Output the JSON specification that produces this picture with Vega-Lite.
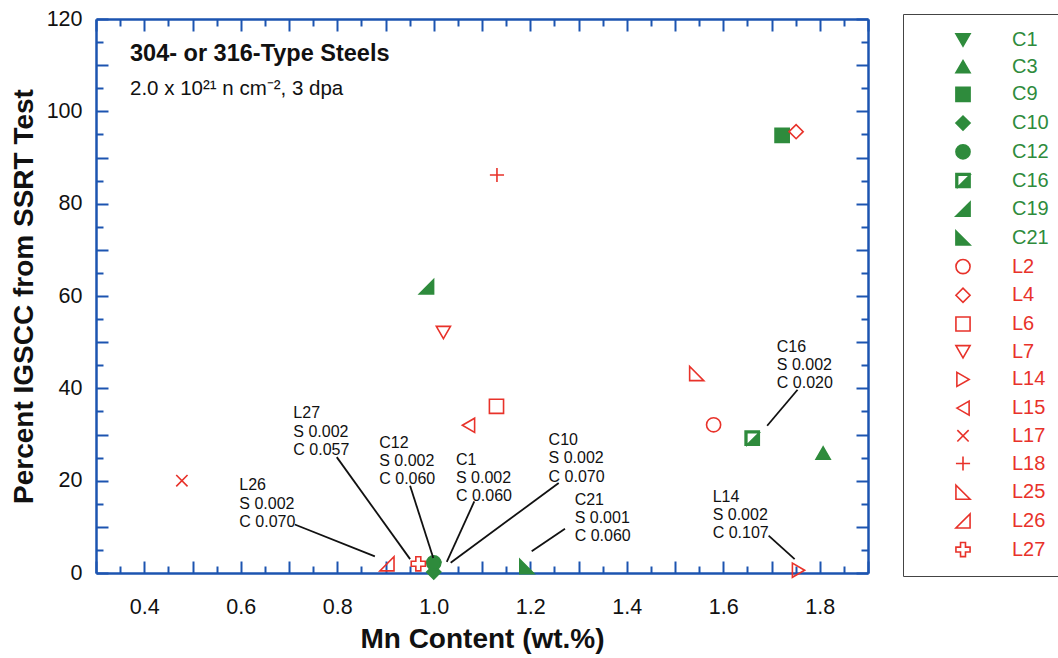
{
  "$schema": "https://vega.github.io/schema/vega-lite/v6.json",
  "autosize": {"type": "none"},
  "padding": {"left": 96, "top": 19, "right": 190, "bottom": 85},
  "width": 772,
  "height": 554,
  "background": "white",
  "config": {
    "view": {"stroke": null},
    "font": "Liberation Sans",
    "axis": {"grid": false, "domainColor": "#1c54b0", "tickColor": "#1c54b0", "tickWidth": 2, "domainWidth": 2.5, "labelFont": "Liberation Sans", "titleFont": "Liberation Sans", "labelColor": "#111", "titleColor": "#111"},
    "legend": {"labelColor": {"expr": "indexof(datum.value, 'C') == 0 ? '#2e8b3c' : '#e8322a'"}}
  },
  "resolve": {"axis": {"x": "independent", "y": "independent"}},
  "layer": [
    {
      "data": {"values": [
        {"id": "C1", "mn": 1.0, "pct": 1.0},
        {"id": "C3", "mn": 1.807, "pct": 26.0},
        {"id": "C9", "mn": 1.722, "pct": 94.8},
        {"id": "C10", "mn": 1.0, "pct": 0.2},
        {"id": "C12", "mn": 1.0, "pct": 2.2},
        {"id": "C16", "mn": 1.66, "pct": 29.2},
        {"id": "C19", "mn": 0.985, "pct": 62.0},
        {"id": "C21", "mn": 1.193, "pct": 1.4},
        {"id": "L2", "mn": 1.58, "pct": 32.1},
        {"id": "L4", "mn": 1.751, "pct": 95.6},
        {"id": "L6", "mn": 1.13, "pct": 36.1},
        {"id": "L7", "mn": 1.02, "pct": 52.1},
        {"id": "L14", "mn": 1.756, "pct": 0.6},
        {"id": "L15", "mn": 1.072, "pct": 32.0},
        {"id": "L17", "mn": 0.478, "pct": 20.0},
        {"id": "L18", "mn": 1.131, "pct": 86.2},
        {"id": "L25", "mn": 1.545, "pct": 43.2},
        {"id": "L26", "mn": 0.903, "pct": 2.0},
        {"id": "L27", "mn": 0.968, "pct": 2.0}
      ]},
      "mark": {"type": "point", "size": 200, "strokeWidth": 1.6, "opacity": 1},
      "encoding": {
        "x": {"field": "mn", "type": "quantitative", "scale": {"domain": [0.3, 1.9], "nice": false, "zero": false},
          "axis": {"orient": "bottom", "values": [0.3,0.4,0.5,0.6,0.7,0.8,0.9,1.0,1.1,1.2,1.3,1.4,1.5,1.6,1.7,1.8,1.9],
            "labelExpr": "abs(datum.value*10 - 2*round(datum.value*5)) < 0.01 && datum.value > 0.35 && datum.value < 1.85 ? format(datum.value, '.1f') : ''",
            "tickSize": -12, "labelFontSize": 21.5, "labelPadding": 35, "labelFlush": false, "labelOverlap": false,
            "title": "Mn Content (wt.%)", "titleFontSize": 28, "titleFontWeight": "bold", "titlePadding": 8}},
        "y": {"field": "pct", "type": "quantitative", "scale": {"domain": [0, 120], "nice": false, "zero": false},
          "axis": {"orient": "left", "values": [0,10,20,30,40,50,60,70,80,90,100,110,120],
            "labelExpr": "datum.value % 20 == 0 ? datum.label : ''",
            "tickSize": -12, "labelFontSize": 21.5, "labelPadding": 26, "labelFlush": false, "labelOverlap": false,
            "title": "Percent IGSCC from SSRT Test", "titleFontSize": 28, "titleFontWeight": "bold", "titlePadding": 8}},
        "shape": {"field": "id", "type": "nominal",
          "scale": {
            "domain": ["C1","C3","C9","C10","C12","C16","C19","C21","L2","L4","L6","L7","L14","L15","L17","L18","L25","L26","L27"],
            "range": ["triangle-down","triangle-up","square","diamond","circle",
              "M-1,-1L1,-1L1,1L-1,1ZM-0.76,-0.76L-0.76,0.98L0.98,-0.76Z",
              "M-1,1L1,1L1,-1Z",
              "M-1,-1L-1,1L1,1Z",
              "circle","diamond","square","triangle-down","triangle-right","triangle-left",
              "M-0.8,-0.8L0.8,0.8M-0.8,0.8L0.8,-0.8",
              "M-1,0L1,0M0,-1L0,1",
              "M-1,-1L-1,1L1,1Z",
              "M-1,1L1,1L1,-1Z",
              "M-0.35,-1H0.35V-0.35H1V0.35H0.35V1H-0.35V0.35H-1V-0.35H-0.35Z"]},
          "legend": {"orient": "none", "legendX": 807, "legendY": -5, "title": null, "padding": 16,
            "strokeColor": "#444", "fillColor": "white",
            "symbolSize": 200, "symbolStrokeWidth": 1.6, "symbolOffset": 34, "labelOffset": 39,
            "labelFontSize": 20, "labelFont": "Liberation Sans", "rowPadding": 6.7, "labelLimit": 200,
            "labelColor": {"expr": "indexof(datum.value, 'C') == 0 ? '#2e8b3c' : '#e8322a'"}}},
        "fill": {"field": "id", "type": "nominal",
          "scale": {
            "domain": ["C1","C3","C9","C10","C12","C16","C19","C21","L2","L4","L6","L7","L14","L15","L17","L18","L25","L26","L27"],
            "range": ["#2e8b3c","#2e8b3c","#2e8b3c","#2e8b3c","#2e8b3c","#2e8b3c","#2e8b3c","#2e8b3c","transparent","transparent","transparent","transparent","transparent","transparent","transparent","transparent","transparent","transparent","transparent"]}},
        "stroke": {"field": "id", "type": "nominal",
          "scale": {
            "domain": ["C1","C3","C9","C10","C12","C16","C19","C21","L2","L4","L6","L7","L14","L15","L17","L18","L25","L26","L27"],
            "range": ["#2e8b3c","#2e8b3c","#2e8b3c","#2e8b3c","#2e8b3c","#2e8b3c","#2e8b3c","#2e8b3c","#e8322a","#e8322a","#e8322a","#e8322a","#e8322a","#e8322a","#e8322a","#e8322a","#e8322a","#e8322a","#e8322a"]}}
      }
    },
    {
      "data": {"values": [
        {"lx": 0.597, "ly": 17.9, "label": "L26\nS 0.002\nC 0.070"},
        {"lx": 0.709, "ly": 33.5, "label": "L27\nS 0.002\nC 0.057"},
        {"lx": 0.887, "ly": 27.1, "label": "C12\nS 0.002\nC 0.060"},
        {"lx": 1.046, "ly": 23.5, "label": "C1\nS 0.002\nC 0.060"},
        {"lx": 1.238, "ly": 27.7, "label": "C10\nS 0.002\nC 0.070"},
        {"lx": 1.292, "ly": 14.8, "label": "C21\nS 0.001\nC 0.060"},
        {"lx": 1.711, "ly": 47.9, "label": "C16\nS 0.002\nC 0.020"},
        {"lx": 1.578, "ly": 15.4, "label": "L14\nS 0.002\nC 0.107"}
      ]},
      "mark": {"type": "text", "align": "left", "baseline": "alphabetic", "fontSize": 16, "lineHeight": 18.3, "lineBreak": "\n", "color": "#111", "font": "Liberation Sans"},
      "encoding": {
        "x": {"field": "lx", "type": "quantitative", "scale": {"domain": [0.3, 1.9], "nice": false, "zero": false},
          "axis": {"orient": "bottom", "values": [0.35,0.45,0.55,0.65,0.75,0.85,0.95,1.05,1.15,1.25,1.35,1.45,1.55,1.65,1.75,1.85],
            "tickSize": -7, "labels": false, "domain": false, "title": null}},
        "y": {"field": "ly", "type": "quantitative", "scale": {"domain": [0, 120], "nice": false, "zero": false},
          "axis": {"orient": "left", "values": [5,15,25,35,45,55,65,75,85,95,105,115],
            "tickSize": -7, "labels": false, "domain": false, "title": null}},
        "text": {"field": "label", "type": "nominal"}
      }
    },
    {
      "data": {"values": [
        {"ax": 0.712, "ay": 10.5, "bx": 0.878, "by": 3.6},
        {"ax": 0.799, "ay": 25.1, "bx": 0.951, "by": 3.0},
        {"ax": 0.951, "ay": 18.9, "bx": 0.999, "by": 3.25},
        {"ax": 1.084, "ay": 15.5, "bx": 1.027, "by": 2.4},
        {"ax": 1.259, "ay": 19.5, "bx": 1.035, "by": 2.2},
        {"ax": 1.272, "ay": 9.6, "bx": 1.203, "by": 4.7},
        {"ax": 1.754, "ay": 39.7, "bx": 1.691, "by": 31.9},
        {"ax": 1.694, "ay": 8.1, "bx": 1.748, "by": 3.0}
      ]},
      "mark": {"type": "rule", "color": "#111", "strokeWidth": 1.8},
      "encoding": {
        "x": {"field": "ax", "type": "quantitative", "scale": {"domain": [0.3, 1.9], "nice": false, "zero": false},
          "axis": {"orient": "top", "values": [0.3,0.4,0.5,0.6,0.7,0.8,0.9,1.0,1.1,1.2,1.3,1.4,1.5,1.6,1.7,1.8,1.9],
            "tickSize": -12, "labels": false, "title": null}},
        "y": {"field": "ay", "type": "quantitative", "scale": {"domain": [0, 120], "nice": false, "zero": false},
          "axis": {"orient": "right", "values": [0,10,20,30,40,50,60,70,80,90,100,110,120],
            "tickSize": -12, "labels": false, "title": null}},
        "x2": {"field": "bx"},
        "y2": {"field": "by"}
      }
    },
    {
      "data": {"values": [{"tx": 0.3705, "ty": 110.9, "t": "304- or 316-Type Steels"}]},
      "mark": {"type": "text", "align": "left", "baseline": "alphabetic", "fontSize": 23.5, "fontWeight": "bold", "color": "#111", "font": "Liberation Sans"},
      "encoding": {
        "x": {"field": "tx", "type": "quantitative", "scale": {"domain": [0.3, 1.9], "nice": false, "zero": false},
          "axis": {"orient": "top", "values": [0.35,0.45,0.55,0.65,0.75,0.85,0.95,1.05,1.15,1.25,1.35,1.45,1.55,1.65,1.75,1.85],
            "tickSize": -7, "labels": false, "domain": false, "title": null}},
        "y": {"field": "ty", "type": "quantitative", "scale": {"domain": [0, 120], "nice": false, "zero": false},
          "axis": {"orient": "right", "values": [5,15,25,35,45,55,65,75,85,95,105,115],
            "tickSize": -7, "labels": false, "domain": false, "title": null}},
        "text": {"field": "t", "type": "nominal"}
      }
    },
    {
      "data": {"values": [{"tx": 0.3705, "ty": 103.6, "t": "2.0 x 10²¹ n cm⁻², 3 dpa"}]},
      "mark": {"type": "text", "align": "left", "baseline": "alphabetic", "fontSize": 20.5, "color": "#111", "font": "Liberation Sans"},
      "encoding": {
        "x": {"field": "tx", "type": "quantitative", "scale": {"domain": [0.3, 1.9], "nice": false, "zero": false}, "axis": null},
        "y": {"field": "ty", "type": "quantitative", "scale": {"domain": [0, 120], "nice": false, "zero": false}, "axis": null},
        "text": {"field": "t", "type": "nominal"}
      }
    }
  ]
}
